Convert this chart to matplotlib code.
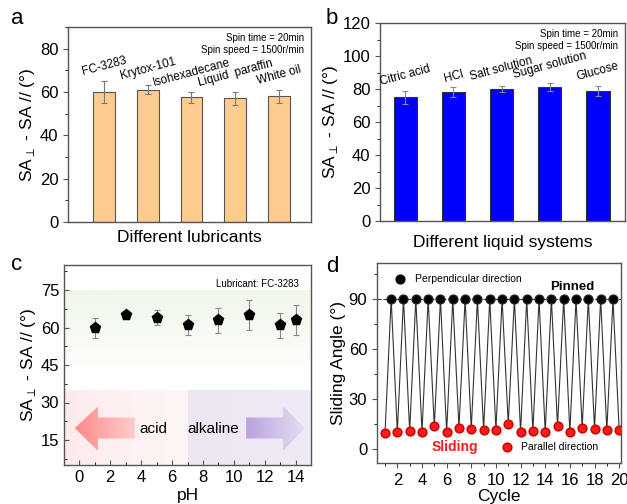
import numpy as np
import matplotlib
matplotlib.use('Agg')
import matplotlib.pyplot as plt
from matplotlib.patches import Polygon
from matplotlib.ticker import MultipleLocator

plt.rcParams['font.family'] = ['Liberation Sans', 'DejaVu Sans']

# panel a
lubricants = ['FC-3283', 'Krytox-101', 'Isohexadecane', 'Liquid  paraffin', 'White oil']
lub_sa = [60, 61, 57.5, 57, 58]
lub_err = [5, 2, 2.5, 3, 3]

# panel b
liquids = ['Citric acid', 'HCl', 'Salt solution', 'Sugar solution', 'Glucose']
liq_sa = [75, 78, 80, 81, 79]
liq_err = [4, 3, 2, 2.5, 3]

# panel c
ph = [1, 3, 5, 7, 9, 11, 13, 14]
ph_sa = [60, 65, 64, 61, 63, 65, 61, 63]
ph_err = [4, 1.5, 3, 4, 5, 6, 5, 6]

# panel d
cycle_par = list(range(1, 21))
sa_par = [9.5, 10, 10.5, 10, 13.5, 10, 12.5, 12, 11, 11.5,
          15, 10, 10.5, 10, 13.5, 10, 12.5, 12, 11, 11.5]
cycle_perp = [c + 0.5 for c in range(1, 20)]
sa_perp = [90] * 19

W, H = 627, 504
fig = plt.figure(figsize=(W / 100, H / 100), dpi=100)


def box(l, t, r, b):
    return [l / W, (H - b) / H, (r - l) / W, (b - t) / H]


spine_c = '#555555'


def style(ax):
    for s in ax.spines.values():
        s.set_color(spine_c)
        s.set_linewidth(1.0)
    ax.tick_params(colors=spine_c, labelcolor='black', labelsize=12)


ylab = 'SA$_{\\perp}$ - SA // (°)'

# ---- a
ax = fig.add_axes(box(68, 27, 311, 222))
style(ax)
xa = np.arange(1, 6)
ax.bar(xa, lub_sa, width=0.5, color='#FECB8E', edgecolor='#555555', linewidth=0.8,
       yerr=lub_err, error_kw=dict(ecolor='#777777', elinewidth=0.8, capsize=2.5, capthick=0.8))
ax.set_xlim(0.18, 5.73)
ax.set_ylim(0, 90)
ax.set_yticks([0, 20, 40, 60, 80])
ax.yaxis.set_minor_locator(MultipleLocator(10))
ax.set_xticks([])
ax.set_ylabel(ylab, fontsize=12.5, labelpad=2)
ax.set_xlabel('Different lubricants', fontsize=12.5, labelpad=6)
for x, v, e, name in zip(xa, lub_sa, lub_err, lubricants):
    ax.text(x, v + e + 1.5, name, rotation=15, ha='center', va='bottom', fontsize=8.5)
ax.text(0.97, 0.97, 'Spin time = 20min\nSpin speed = 1500r/min', transform=ax.transAxes,
        ha='right', va='top', fontsize=7, linespacing=1.3)
fig.text(17 / W, 1 - 18 / H, 'a', fontsize=16, ha='center', va='center')

# ---- b
ax = fig.add_axes(box(380, 23, 625, 221))
style(ax)
ax.bar(xa, liq_sa, width=0.48, color='#0000FF', edgecolor='#333333', linewidth=0.8,
       yerr=liq_err, error_kw=dict(ecolor='#888888', elinewidth=0.8, capsize=2.5, capthick=0.8))
ax.set_xlim(0.48, 5.56)
ax.set_ylim(0, 120)
ax.yaxis.set_major_locator(MultipleLocator(20))
ax.yaxis.set_minor_locator(MultipleLocator(10))
ax.set_xticks([])
ax.set_ylabel(ylab, fontsize=12.5, labelpad=2)
ax.set_xlabel('Different liquid systems', fontsize=12.5, labelpad=10)
for x, v, e, name in zip(xa, liq_sa, liq_err, liquids):
    ax.text(x, v + e + 1.5, name, rotation=15, ha='center', va='bottom', fontsize=8.5)
ax.text(0.97, 0.97, 'Spin time = 20min\nSpin speed = 1500r/min', transform=ax.transAxes,
        ha='right', va='top', fontsize=7, linespacing=1.3)
fig.text(332 / W, 1 - 18 / H, 'b', fontsize=16, ha='center', va='center')

# ---- c
ax = fig.add_axes(box(64, 265, 311, 465))
style(ax)


def grad_rect(ax, x0, x1, y0, y1, c0, c1, vertical=False):
    n = 64
    t = np.linspace(0, 1, n)
    c0 = np.array(matplotlib.colors.to_rgba(c0))
    c1 = np.array(matplotlib.colors.to_rgba(c1))
    cols = c0[None, :] * (1 - t[:, None]) + c1[None, :] * t[:, None]
    if vertical:
        img = cols[:, None, :]
        origin = 'upper'
    else:
        img = cols[None, :, :]
        origin = 'lower'
    return ax.imshow(img, extent=(x0, x1, y0, y1), origin=origin, aspect='auto',
                     interpolation='bilinear', zorder=0)


grad_rect(ax, -1, 15, 45, 75, '#F0F7EA', '#FCFEFB', vertical=True)
grad_rect(ax, -1, 7, 5, 35, '#FDEBEC', '#FDF6F6')
grad_rect(ax, 7, 15, 5, 35, '#EDE7F3', '#EFEAF5')

# arrows
left_arrow = [(-0.3, 19.7), (1.2, 28.4), (1.2, 24), (3.6, 24), (3.6, 15.6), (1.2, 15.6), (1.2, 10.7)]
right_arrow = [(14.6, 19.7), (13.2, 28.4), (13.2, 24), (10.8, 24), (10.8, 15.6), (13.2, 15.6), (13.2, 10.7)]
for pts, c0, c1, x0, x1 in [(left_arrow, '#FF8888', '#FFCDCD', -0.3, 3.6),
                            (right_arrow, '#B9A2DD', '#E6DEF2', 10.8, 14.6)]:
    poly = Polygon(pts, closed=True, facecolor='none', edgecolor='none')
    ax.add_patch(poly)
    im = grad_rect(ax, x0, x1, 10.7, 28.4, c0, c1)
    im.set_zorder(1)
    im.set_clip_path(poly)
ax.set_xlim(-1, 15)
ax.set_ylim(5, 85)
ax.text(4.8, 19.5, 'acid', fontsize=11, ha='center', va='center')
ax.text(8.7, 19.5, 'alkaline', fontsize=11, ha='center', va='center')

ax.errorbar(ph, ph_sa, yerr=ph_err, fmt='p', color='black', markersize=8,
            ecolor='#888888', elinewidth=0.8, capsize=2.5, capthick=0.8, zorder=3)
ax.xaxis.set_major_locator(MultipleLocator(2))
ax.xaxis.set_minor_locator(MultipleLocator(1))
ax.set_yticks([15, 30, 45, 60, 75])
ax.yaxis.set_minor_locator(MultipleLocator(7.5))
ax.tick_params(which='both', direction='in')
ax.set_ylabel(ylab, fontsize=12.5, labelpad=2)
ax.set_xlabel('pH', fontsize=12.5, labelpad=2)
ax.text(0.95, 0.93, 'Lubricant: FC-3283', transform=ax.transAxes,
        ha='right', va='top', fontsize=7)
fig.text(17 / W, 1 - 264 / H, 'c', fontsize=16, ha='center', va='center')

# ---- d
ax = fig.add_axes(box(377, 263, 621, 463))
style(ax)
xs, ys = [], []
for i in range(20):
    xs.append(cycle_par[i])
    ys.append(sa_par[i])
    if i < 19:
        xs.append(cycle_perp[i])
        ys.append(sa_perp[i])
ax.plot(xs, ys, color='#333333', linewidth=0.8, zorder=1)
ax.axhline(90, color='#333333', linestyle='--', linewidth=0.8, zorder=1)
ax.scatter(cycle_perp, sa_perp, s=40, color='black', edgecolors='#222222', zorder=3,
           label='Perpendicular direction')
ax.scatter(cycle_par, sa_par, s=40, color='#FF1A1A', edgecolors='#CC0000', zorder=3,
           label='Parallel direction')
ax.set_xlim(0.35, 20.15)
ax.set_ylim(-8.6, 111.6)
ax.set_xticks(range(2, 21, 2))
ax.xaxis.set_minor_locator(MultipleLocator(1))
ax.set_yticks([0, 30, 60, 90])
ax.yaxis.set_minor_locator(MultipleLocator(15))
ax.set_ylabel('Sliding Angle (°)', fontsize=12.5, labelpad=2)
ax.set_xlabel('Cycle', fontsize=12.5, labelpad=1)
ax.scatter([2.2], [102], s=40, color='black', zorder=3)
ax.text(3.4, 102, 'Perpendicular direction', fontsize=7.5, va='center')
ax.scatter([10.9], [1], s=40, color='#FF1A1A', edgecolors='#CC0000', zorder=3)
ax.text(12.0, 1, 'Parallel direction', fontsize=7.5, va='center')
ax.text(16.2, 97, 'Pinned', fontsize=9.5, fontweight='bold', ha='center', va='center')
ax.text(6.7, 1, 'Sliding', fontsize=10, fontweight='bold', color='#FF1A1A',
        ha='center', va='center')
fig.text(332 / W, 1 - 266 / H, 'd', fontsize=16, ha='center', va='center')

fig.savefig('out.png', dpi=100)
